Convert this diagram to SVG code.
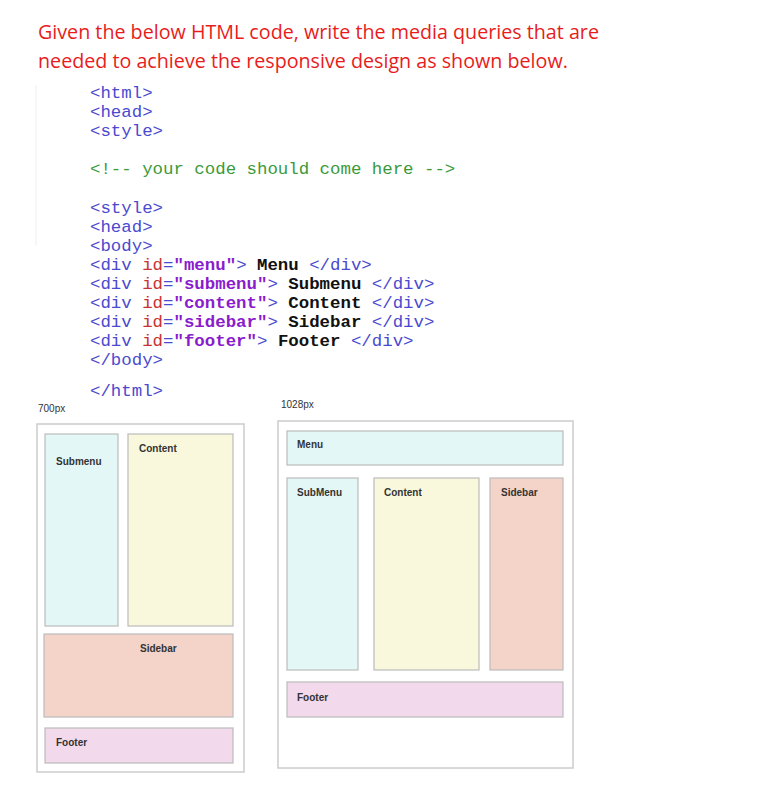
<svg xmlns="http://www.w3.org/2000/svg" width="764" height="791" viewBox="0 0 764 791">
<style>
.t{font-family:"Open Sans","Liberation Sans",sans-serif;font-size:19.7px;fill:#e81c1c}
.c{font-family:"Liberation Mono",monospace;font-size:17.4px;fill:#4a4ad0}
.a{fill:#c83232}.v{fill:#8a1ccc;font-weight:bold}.k{fill:#111;font-weight:bold}.g{fill:#3a9a3a}
.o{fill:#fff;stroke:#ccc;stroke-width:1.5}
.b{stroke:#bbb;stroke-width:1.2}
.l{font-family:"Liberation Sans",sans-serif;font-size:10px;font-weight:bold;fill:#333}
.h{font-family:"Liberation Sans",sans-serif;font-size:10px;fill:#333}
</style>
<rect width="764" height="791" fill="#fff"/>
<line x1="36" y1="85" x2="36" y2="245" stroke="#eee"/>
<g id="title">
<text class="t" x="38" y="39">Given the below HTML code, write the media queries that are</text>
<text class="t" x="38" y="68">needed to achieve the responsive design as shown below.</text>
</g>
<g id="code" class="c">
<text x="90" y="98">&lt;html&gt;</text>
<text x="90" y="117">&lt;head&gt;</text>
<text x="90" y="136">&lt;style&gt;</text>
<text x="90" y="174" class="c g">&lt;!-- your code should come here --&gt;</text>
<text x="90" y="213">&lt;style&gt;</text>
<text x="90" y="232">&lt;head&gt;</text>
<text x="90" y="251">&lt;body&gt;</text>
<text x="90" y="270">&lt;div <tspan class="a">id</tspan>=<tspan class="v">"menu"</tspan>&gt; <tspan class="k">Menu</tspan> &lt;/div&gt;</text>
<text x="90" y="289">&lt;div <tspan class="a">id</tspan>=<tspan class="v">"submenu"</tspan>&gt; <tspan class="k">Submenu</tspan> &lt;/div&gt;</text>
<text x="90" y="308">&lt;div <tspan class="a">id</tspan>=<tspan class="v">"content"</tspan>&gt; <tspan class="k">Content</tspan> &lt;/div&gt;</text>
<text x="90" y="327">&lt;div <tspan class="a">id</tspan>=<tspan class="v">"sidebar"</tspan>&gt; <tspan class="k">Sidebar</tspan> &lt;/div&gt;</text>
<text x="90" y="346">&lt;div <tspan class="a">id</tspan>=<tspan class="v">"footer"</tspan>&gt; <tspan class="k">Footer</tspan> &lt;/div&gt;</text>
<text x="90" y="365">&lt;/body&gt;</text>
<text x="90" y="396">&lt;/html&gt;</text>
</g>
<g id="layout700">
<text class="h" x="38" y="412">700px</text>
<rect class="o" x="37" y="424" width="207" height="348"/>
<rect class="b" x="45" y="434" width="73" height="192" fill="#e3f7f7"/>
<text class="l" x="56" y="465">Submenu</text>
<rect class="b" x="128" y="434" width="105" height="192" fill="#f9f8dc"/>
<text class="l" x="139" y="452">Content</text>
<rect class="b" x="44" y="634" width="189" height="83" fill="#f4d3c9"/>
<text class="l" x="140" y="652">Sidebar</text>
<rect class="b" x="45" y="728" width="188" height="35" fill="#f2d9ec"/>
<text class="l" x="56" y="746">Footer</text>
</g>
<g id="layout1028">
<text class="h" x="281" y="408">1028px</text>
<rect class="o" x="278" y="421" width="295" height="347"/>
<rect class="b" x="287" y="431" width="276" height="34" fill="#e3f7f7"/>
<text class="l" x="297" y="448">Menu</text>
<rect class="b" x="287" y="478" width="71" height="192" fill="#e3f7f7"/>
<text class="l" x="297" y="496">SubMenu</text>
<rect class="b" x="374" y="478" width="105" height="192" fill="#f9f8dc"/>
<text class="l" x="384" y="496">Content</text>
<rect class="b" x="490" y="478" width="73" height="192" fill="#f4d3c9"/>
<text class="l" x="501" y="496">Sidebar</text>
<rect class="b" x="287" y="682" width="276" height="35" fill="#f2d9ec"/>
<text class="l" x="297" y="701">Footer</text>
</g>
</svg>
